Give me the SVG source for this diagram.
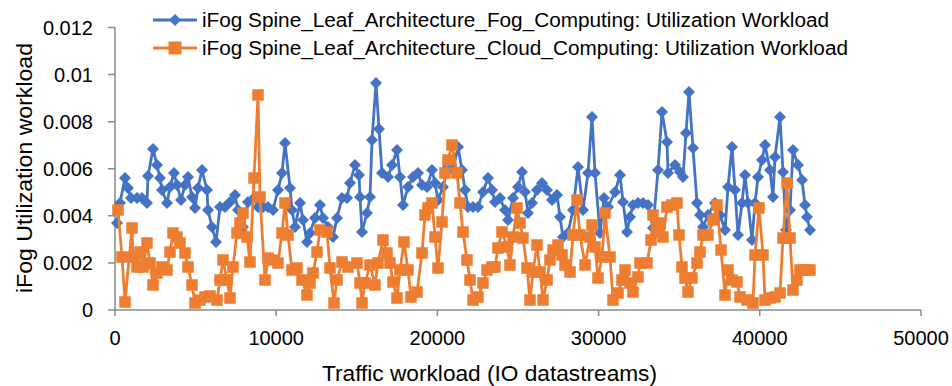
<svg xmlns="http://www.w3.org/2000/svg" width="952" height="386" viewBox="0 0 952 386">
<style>
text{font-family:"Liberation Sans",Arial,sans-serif;fill:#000}
.tk{font-size:20px}
.ax{stroke:#898989;stroke-width:1.5;fill:none}
.fog{fill:none;stroke:#4472C4;stroke-width:2.8;stroke-linejoin:round;marker-start:url(#dm);marker-mid:url(#dm);marker-end:url(#dm)}
.cld{fill:none;stroke:#ED7D31;stroke-width:2.8;stroke-linejoin:round;marker-start:url(#sq);marker-mid:url(#sq);marker-end:url(#sq)}
</style>
<defs>
<marker id="dm" viewBox="-7 -7 14 14" refX="0" refY="0" markerWidth="14" markerHeight="14" markerUnits="userSpaceOnUse" orient="0"><path d="M0,-6L6,0L0,6L-6,0Z" fill="#4472C4"/></marker>
<marker id="sq" viewBox="-7 -7 14 14" refX="0" refY="0" markerWidth="14" markerHeight="14" markerUnits="userSpaceOnUse" orient="0"><rect x="-5.75" y="-5.75" width="11.5" height="11.5" fill="#ED7D31"/></marker>
</defs>
<rect width="952" height="386" fill="#fff"/>
<g id="axes">
<path class="ax" d="M115,27.5V310H921M108,27.5H115M108,74.6H115M108,121.7H115M108,168.8H115M108,215.8H115M108,262.9H115M108,310H115M115,310V316M276.2,310V316M437.4,310V316M598.6,310V316M759.8,310V316M921,310V316"/>
</g>
<g id="y-ticks" class="tk" text-anchor="end">
<text x="93" y="34.5">0.012</text>
<text x="93" y="81.6">0.01</text>
<text x="93" y="128.7">0.008</text>
<text x="93" y="175.8">0.006</text>
<text x="93" y="222.8">0.004</text>
<text x="93" y="269.9">0.002</text>
<text x="93" y="317">0</text>
</g>
<g id="x-ticks" class="tk" text-anchor="middle">
<text x="115" y="345">0</text>
<text x="276.2" y="345">10000</text>
<text x="437.4" y="345">20000</text>
<text x="598.6" y="345">30000</text>
<text x="759.8" y="345">40000</text>
<text x="921" y="345">50000</text>
</g>
<text id="x-title" x="322" y="381" font-size="21.5" textLength="335" lengthAdjust="spacingAndGlyphs">Traffic workload (IO datastreams)</text>
<text id="y-title" transform="translate(32,293) rotate(-90)" font-size="22" textLength="250" lengthAdjust="spacingAndGlyphs">iFog Utilization workload</text>
<g id="connectors">
<polyline id="fog-series" class="fog" points="117,223 120,203 125,178 128,188 131,198 137,198 142,198 147,203 148,176 153,149 157,165 160,178 162,190 167,203 170,187 174,173 177,185 181,200 185,185 188,177 192,197 195,208 198,188 202,170 207,190 208,210 212,227 216,242 220,207 225,207 230,202 235,195 238,210 243,227 248,202 255,197 258,207 263,207 268,207 273,210 278,190 282,173 285,143 290,188 292,210 295,227 300,203 303,220 307,242 310,233 315,218 320,205 323,218 328,227 333,237 337,218 342,198 347,198 350,183 355,165 359,175 360,197 362,232 367,213 370,197 372,140 376,83 379,129 382,173 388,177 392,165 397,150 400,177 403,205 408,187 413,177 418,173 422,185 427,187 432,170 435,183 438,200 443,187 448,167 453,170 458,147 462,170 465,190 468,207 473,207 478,207 483,192 488,178 492,190 495,202 500,198 505,210 508,220 513,198 518,187 522,172 525,192 528,213 532,203 537,190 542,183 547,190 552,200 557,195 560,217 563,237 568,233 573,210 578,167 583,210 588,173 592,117 595,173 600,233 604,198 608,207 615,192 620,175 623,202 627,232 630,217 633,205 638,203 643,203 648,205 653,228 658,170 662,112 667,142 668,173 675,165 680,172 683,177 686,133 689,92 693,148 697,203 700,215 703,227 708,215 715,203 720,215 725,230 728,187 732,147 735,190 738,235 742,203 745,175 748,203 752,240 755,203 758,177 762,160 765,145 770,170 773,197 775,157 780,117 783,172 786,230 790,210 793,150 798,165 802,180 805,205 807,217 810,230"/>
<polyline id="cloud-series" class="cld" points="118,210 122,257 125,302 132,228 133,257 137,267 140,252 143,267 147,243 150,263 153,285 157,273 162,267 167,270 170,252 173,233 177,237 180,243 185,253 188,267 192,285 195,303 200,300 205,297 210,296 217,300 220,280 223,260 227,280 230,298 233,267 237,233 240,223 243,213 247,237 250,262 254,178 258,95 260,197 265,280 268,258 273,260 278,263 282,233 285,203 288,235 292,270 297,268 302,280 307,295 310,283 313,273 317,252 320,230 327,232 330,268 334,303 337,280 342,262 348,267 357,263 360,283 362,303 365,283 370,265 375,285 378,263 383,240 387,253 390,263 393,282 397,298 400,270 404,242 408,270 411,297 417,292 422,253 425,215 428,208 432,203 435,237 438,268 442,222 445,173 448,160 452,145 457,173 460,203 463,232 467,260 470,280 473,300 478,297 483,283 487,270 492,267 495,267 498,248 502,232 507,247 510,265 513,237 517,208 520,223 523,238 527,268 530,300 533,272 537,245 540,272 543,300 547,280 550,260 553,250 558,245 562,255 565,265 570,272 573,235 577,200 580,235 585,265 590,237 592,225 595,247 598,278 602,257 605,213 610,257 613,300 618,293 622,280 625,270 630,283 633,292 638,277 640,263 647,263 651,240 653,215 657,232 660,223 663,237 667,207 672,205 677,203 679,235 682,267 685,278 688,292 692,278 697,263 700,252 703,235 708,235 713,220 717,205 721,250 725,295 728,270 732,280 737,282 740,297 747,300 753,303 755,255 759,208 763,255 765,300 770,298 775,297 780,293 783,238 787,183 790,238 793,290 797,280 800,270 805,270 810,270"/>
</g>
<g id="legend">
<g id="legend-fog">
<line x1="153" y1="20" x2="197" y2="20" stroke="#4472C4" stroke-width="2.8"/>
<path d="M175,14L181,20L175,26L169,20Z" fill="#4472C4"/>
<text x="202" y="27" font-size="19.5" textLength="627" lengthAdjust="spacingAndGlyphs">iFog Spine_Leaf_Architecture_Fog_Computing: Utilization Workload</text>
</g>
<g id="legend-cloud">
<line x1="153" y1="48" x2="197" y2="48" stroke="#ED7D31" stroke-width="2.8"/>
<rect x="168.5" y="41.5" width="13" height="13" fill="#ED7D31"/>
<text x="202" y="55" font-size="19.5" textLength="646" lengthAdjust="spacingAndGlyphs">iFog Spine_Leaf_Architecture_Cloud_Computing: Utilization Workload</text>
</g>
</g>
</svg>
